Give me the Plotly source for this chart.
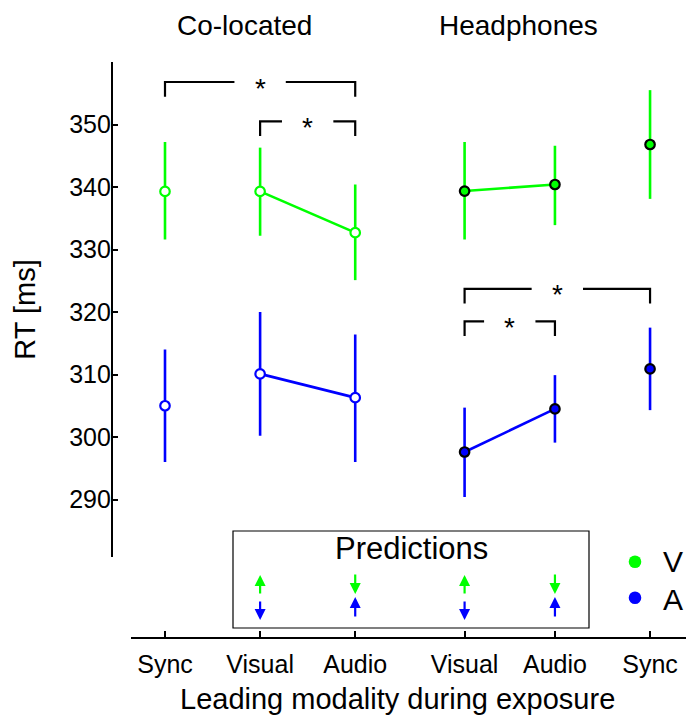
import plotly.graph_objects as go

W, H = 686, 719
FONT = "Liberation Sans, Arial, Helvetica, sans-serif"
GREEN = "#00ff00"
BLUE = "#0000ff"

# ---- data ----
tick_labels = ["Sync", "Visual", "Audio", "Visual", "Audio", "Sync"]
x_pos = [1, 2, 3, 4.15, 5.1, 6.1]

# Co-located (Sync, Visual, Audio) -> x_pos[0:3]
co_V_mean = [339.3, 339.3, 332.7]
co_V_lo = [331.6, 332.2, 325.1]
co_V_hi = [347.2, 346.3, 340.4]
co_A_mean = [305.0, 310.1, 306.3]
co_A_lo = [296.0, 300.2, 296.0]
co_A_hi = [314.0, 320.0, 316.4]

# Headphones (Visual, Audio, Sync) -> x_pos[3:6]
hp_V_mean = [339.35, 340.4, 346.8]
hp_V_lo = [331.6, 333.9, 338.1]
hp_V_hi = [347.2, 346.6, 355.5]
hp_A_mean = [297.6, 304.5, 310.9]
hp_A_lo = [290.4, 299.1, 304.3]
hp_A_hi = [304.7, 309.9, 317.5]

# significance brackets: (x index left, x index right, level)
sig_brackets = [(0, 2, 356.8), (1, 2, 350.5), (3, 5, 323.7), (3, 4, 318.5)]
bracket_drop = 2.35

y_ticks = [290, 300, 310, 320, 330, 340, 350]
y_range = [280.8, 360.0]
x_range = [0.6425, 6.478]

# predictions: +1 = up arrow, -1 = down arrow (at Visual, Audio, Visual, Audio)
pred_idx = [1, 2, 3, 4]
pred_V = [1, -1, 1, -1]
pred_A = [-1, 1, -1, 1]

legend_names = ["V", "A"]
legend_colors = [GREEN, BLUE]


def px_x(p):
    return p / W


def px_y(p):
    return 1 - p / H


fig = go.Figure()


def add_group(xs, mean, lo, hi, color, filled, connect, name):
    plus = [h - m for h, m in zip(hi, mean)]
    minus = [m - l for m, l in zip(mean, lo)]
    # connecting line between the "Visual" and "Audio" points
    fig.add_trace(go.Scatter(
        x=[xs[i] for i in connect], y=[mean[i] for i in connect],
        mode="lines", line=dict(color=color, width=2.6),
        showlegend=False, hoverinfo="skip"))
    fig.add_trace(go.Scatter(
        x=xs, y=mean, mode="markers", name=name,
        error_y=dict(type="data", symmetric=False, array=plus, arrayminus=minus,
                     color=color, thickness=2.6, width=0),
        marker=dict(size=9.5, color=color if filled else "white",
                    line=dict(color="black" if filled else color, width=2.2)),
        showlegend=False))


add_group(x_pos[0:3], co_V_mean, co_V_lo, co_V_hi, GREEN, False, [1, 2], "V")
add_group(x_pos[0:3], co_A_mean, co_A_lo, co_A_hi, BLUE, False, [1, 2], "A")
add_group(x_pos[3:6], hp_V_mean, hp_V_lo, hp_V_hi, GREEN, True, [0, 1], "V")
add_group(x_pos[3:6], hp_A_mean, hp_A_lo, hp_A_hi, BLUE, True, [0, 1], "A")

shapes = []
annotations = []

# significance brackets
gap = 0.27
for i0, i1, lvl in sig_brackets:
    xa, xb = x_pos[i0], x_pos[i1]
    xm = (xa + xb) / 2
    line = dict(color="black", width=2.2)
    shapes.append(dict(type="path", xref="x", yref="y",
                       path=f"M {xa},{lvl - bracket_drop} L {xa},{lvl} L {xm - gap},{lvl}",
                       line=line))
    shapes.append(dict(type="path", xref="x", yref="y",
                       path=f"M {xm + gap},{lvl} L {xb},{lvl} L {xb},{lvl - bracket_drop}",
                       line=line))
    annotations.append(dict(x=xm, y=lvl, xref="x", yref="y", text="*",
                            showarrow=False, yanchor="middle", yshift=-6,
                            font=dict(family=FONT, size=28, color="black")))

# predictions box
shapes.append(dict(type="rect", xref="paper", yref="paper",
                   x0=px_x(233), x1=px_x(589), y0=px_y(628), y1=px_y(531),
                   line=dict(color="black", width=1.2)))
annotations.append(dict(x=px_x(411.7), y=px_y(529), xref="paper", yref="paper",
                        text="Predictions", showarrow=False, xanchor="center", yanchor="top",
                        font=dict(family=FONT, size=31, color="black")))

for i, dv, da in zip(pred_idx, pred_V, pred_A):
    xx = x_pos[i]
    if dv > 0:
        head, tail = 575, 595
    else:
        head, tail = 594, 573
    annotations.append(dict(x=xx, y=px_y(head), xref="x", yref="paper", text="",
                            showarrow=True, ax=0, ay=tail - head, arrowhead=2,
                            arrowsize=1.0, arrowwidth=2.2, arrowcolor=GREEN, standoff=0))
    if da > 0:
        head, tail = 597, 618
    else:
        head, tail = 620, 600
    annotations.append(dict(x=xx, y=px_y(head), xref="x", yref="paper", text="",
                            showarrow=True, ax=0, ay=tail - head, arrowhead=2,
                            arrowsize=1.0, arrowwidth=2.2, arrowcolor=BLUE, standoff=0))

# legend (V / A), drawn as markers + labels at the lower right
leg_centers = [561.7, 597.7]
leg_baselines = [571.7, 610.0]
for name, col, cy, base in zip(legend_names, legend_colors, leg_centers, leg_baselines):
    r = 6.3
    shapes.append(dict(type="circle", xref="paper", yref="paper",
                       x0=px_x(635 - r), x1=px_x(635 + r), y0=px_y(cy + r), y1=px_y(cy - r),
                       fillcolor=col, line=dict(color=col, width=0)))
    annotations.append(dict(x=px_x(661), y=px_y(base - 0.905 * 30 - 2), xref="paper",
                            yref="paper", text=name, showarrow=False,
                            xanchor="left", yanchor="top",
                            font=dict(family=FONT, size=30, color="black")))

# group titles
annotations.append(dict(x=px_x(244.5), y=px_y(7.5), xref="paper", yref="paper",
                        text="Co-located", showarrow=False, xanchor="center", yanchor="top",
                        font=dict(family=FONT, size=28, color="black")))
annotations.append(dict(x=px_x(518), y=px_y(7.5), xref="paper", yref="paper",
                        text="Headphones", showarrow=False, xanchor="center", yanchor="top",
                        font=dict(family=FONT, size=28, color="black")))
# x title
annotations.append(dict(x=px_x(397.5), y=px_y(681), xref="paper", yref="paper",
                        text="Leading modality during exposure", showarrow=False,
                        xanchor="center", yanchor="top",
                        font=dict(family=FONT, size=29, color="black")))

fig.update_layout(
    width=W, height=H, autosize=False,
    margin=dict(l=0, r=0, t=0, b=0),
    paper_bgcolor="white", plot_bgcolor="white",
    font=dict(family=FONT, color="black"),
    shapes=shapes, annotations=annotations,
    showlegend=False,
    xaxis=dict(domain=[131 / W, 1.0], anchor="free", position=(H - 638) / H,
               range=x_range, tickmode="array", tickvals=x_pos, ticktext=tick_labels,
               showline=True, linecolor="black", linewidth=2.2,
               ticks="inside", ticklen=6, tickwidth=2, tickcolor="black",
               showgrid=False, zeroline=False, automargin=False,
               ticklabelstandoff=4,
               tickfont=dict(family=FONT, size=25, color="black")),
    yaxis=dict(domain=[(H - 557) / H, (H - 62) / H], anchor="free", position=112 / W,
               range=y_range, tickmode="array", tickvals=y_ticks,
               showline=True, linecolor="black", linewidth=2.2,
               ticks="inside", ticklen=5, tickwidth=2, tickcolor="black",
               showgrid=False, zeroline=False, automargin=False,
               ticklabelstandoff=-5,
               tickfont=dict(family=FONT, size=25, color="black"),
               title=dict(text="RT [ms]", font=dict(family=FONT, size=29, color="black"),
                          standoff=24)),
)

fig.write_html("out.html", config={"displayModeBar": False},
               post_script="document.body.style.margin='0';")
